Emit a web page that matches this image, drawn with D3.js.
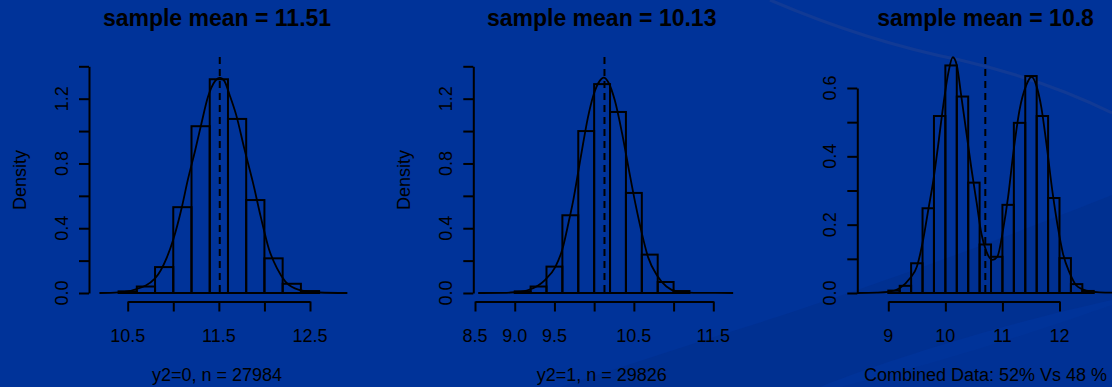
<!DOCTYPE html>
<html>
<head>
<meta charset="utf-8">
<script src="https://cdnjs.cloudflare.com/ajax/libs/d3/7.8.5/d3.min.js"></script>
<style>
  html, body { margin: 0; padding: 0; background: #003399; }
  svg { display: block; font-family: "Liberation Sans", Arial, sans-serif; }
</style>
</head>
<body>
<svg id="chart" width="1112" height="387"></svg>
<script>
//----------DATA----------

var titles = ['sample mean = 11.51', 'sample mean = 10.13', 'sample mean = 10.8'];
var subtitles = ['y2=0, n = 27984', 'y2=1, n = 29826', 'Combined Data: 52% Vs 48 %'];
var yTitles = ['Density', 'Density', ''];

var binWidth = 0.2;
var binStarts = [10.4, 9.0, 9.0];
var heights0 = [0.01, 0.04, 0.16, 0.53, 1.03, 1.32, 1.075, 0.574, 0.214, 0.057, 0.012];
var heights1 = [0.01, 0.04, 0.163, 0.48, 1.0, 1.29, 1.118, 0.618, 0.237, 0.068, 0.012];
var heights2 = [0.007, 0.021, 0.087, 0.248, 0.518, 0.666, 0.575, 0.323, 0.142, 0.106,
                0.258, 0.498, 0.635, 0.518, 0.278, 0.102, 0.026, 0.006];

var density0 = [[10.19,0],[10.4,0.004],[10.57,0.02],[10.8,0.09],[10.93,0.22],[11.0,0.33],
    [11.09,0.52],[11.16,0.70],[11.24,0.88],[11.31,1.05],[11.38,1.21],[11.46,1.31],[11.51,1.33],
    [11.56,1.31],[11.62,1.22],[11.69,1.10],[11.78,0.89],[11.875,0.68],[11.96,0.47],[12.05,0.27],
    [12.14,0.15],[12.23,0.07],[12.38,0.02],[12.6,0.003],[12.91,0]];
var density1 = [[8.54,0],[8.9,0.001],[9.0,0.005],[9.18,0.02],[9.38,0.08],[9.51,0.16],[9.6,0.27],
    [9.68,0.44],[9.74,0.58],[9.8,0.75],[9.86,0.92],[9.92,1.08],[9.99,1.22],[10.07,1.31],[10.12,1.33],
    [10.18,1.30],[10.26,1.19],[10.35,0.99],[10.43,0.78],[10.52,0.55],[10.6,0.37],[10.68,0.22],
    [10.79,0.11],[10.91,0.04],[11.04,0.01],[11.25,0.001],[11.75,0]];
var density2 = [[8.45,0],[8.8,0.001],[9.0,0.003],[9.2,0.014],[9.38,0.043],[9.5,0.077],[9.61,0.155],
    [9.7,0.243],[9.79,0.33],[9.87,0.428],[9.96,0.545],[10.05,0.643],[10.13,0.69],[10.2,0.667],
    [10.28,0.575],[10.37,0.467],[10.46,0.36],[10.55,0.262],[10.63,0.175],[10.72,0.121],[10.83,0.097],
    [10.91,0.106],[11.01,0.184],[11.1,0.282],[11.19,0.409],[11.3,0.536],[11.42,0.609],[11.51,0.633],
    [11.6,0.604],[11.68,0.545],[11.77,0.438],[11.88,0.292],[11.97,0.194],[12.06,0.116],[12.18,0.058],
    [12.29,0.023],[12.47,0.007],[12.7,0.002],[13.3,0]];

var meanLines = [11.51, 10.13, 10.7];

var xTicks0 = [10.5, 11, 11.5, 12, 12.5];
var xTickLabels0 = ['10.5', '', '11.5', '', '12.5'];
var xTicks1 = [8.5, 9, 9.5, 10, 10.5, 11, 11.5];
var xTickLabels1 = ['8.5', '9.0', '9.5', '', '10.5', '', '11.5'];
var xTicks2 = [9, 10, 11, 12];
var xTickLabels2 = ['9', '10', '11', '12'];

var yTicks0 = [0, 0.2, 0.4, 0.6, 0.8, 1.0, 1.2, 1.4];
var yTickLabels0 = ['0.0', '', '0.4', '', '0.8', '', '1.2', ''];
var yTicks2 = [0, 0.1, 0.2, 0.3, 0.4, 0.5, 0.6];
var yTickLabels2 = ['0.0', '', '0.2', '', '0.4', '', '0.6'];

//----------LAYOUT----------

var W = 1112, H = 387;
var y0px = 293;       // y of density 0
var xAxisY = 301.5;   // x axis line
var panels = [
    {axisX: 89,    xr: [127.7, 310],   cx: 217,   heights: heights0, density: density0,
     xTicks: xTicks0, xLabels: xTickLabels0, yTicks: yTicks0, yLabels: yTickLabels0, yTop: 66.3},
    {axisX: 473.3, xr: [475, 713.3],   cx: 601.7, heights: heights1, density: density1,
     xTicks: xTicks1, xLabels: xTickLabels1, yTicks: yTicks0, yLabels: yTickLabels0, yTop: 66.3},
    {axisX: 857.3, xr: [888.3, 1059.5], cx: 985.5, heights: heights2, density: density2,
     xTicks: xTicks2, xLabels: xTickLabels2, yTicks: yTicks2, yLabels: yTickLabels2, yTop: 88}
];

var svg = d3.select('#chart');

//----------BACKGROUND----------

svg.append('rect').attr('width', W).attr('height', H).attr('fill', '#003399');
// darker diagonal bands (slide template)
svg.append('path')
    .attr('d', 'M560,387 L720,335 C850,295 1000,240 1112,195 L1112,300 C1020,320 900,355 820,387 Z')
    .attr('fill', '#002d8a').attr('opacity', 0.55);
svg.append('path')
    .attr('d', 'M840,387 C950,360 1040,330 1112,305 L1112,387 Z')
    .attr('fill', '#00308f').attr('opacity', 0.4);
// thin swoosh at top right
svg.append('path')
    .attr('d', 'M770,0 C840,30 900,48 960,60 C1020,74 1070,92 1112,113')
    .attr('fill', 'none').attr('stroke', '#1d3f92').attr('stroke-width', 3).attr('opacity', 0.6);

//----------PANELS----------

panels.forEach(function(p, i) {
    var x = d3.scaleLinear().domain([p.xTicks[0], p.xTicks[p.xTicks.length - 1]]).range(p.xr);
    var yMax = p.yTicks[p.yTicks.length - 1];
    var y = d3.scaleLinear().domain([0, yMax]).range([y0px, p.yTop]);
    var g = svg.append('g');

    // histogram bars
    g.selectAll('rect.bar')
        .data(p.heights)
        .enter().append('rect')
        .attr('class', 'bar')
        .attr('x', function(d, k) { return x(binStarts[i] + k * binWidth); })
        .attr('width', function(d, k) { return x(binStarts[i] + (k + 1) * binWidth) - x(binStarts[i] + k * binWidth); })
        .attr('y', function(d) { return y(d); })
        .attr('height', function(d) { return y(0) - y(d); })
        .attr('fill', 'none').attr('stroke', '#000').attr('stroke-width', 2);

    // density curve
    var line = d3.line()
        .x(function(d) { return x(d[0]); })
        .y(function(d) { return y(d[1]); })
        .curve(d3.curveMonotoneX);
    g.append('path')
        .datum(p.density)
        .attr('d', line)
        .attr('fill', 'none').attr('stroke', '#000').attr('stroke-width', 1.8);

    // mean line
    g.append('line')
        .attr('x1', x(meanLines[i])).attr('x2', x(meanLines[i]))
        .attr('y1', 57).attr('y2', y0px)
        .attr('stroke', '#000').attr('stroke-width', 2).attr('stroke-dasharray', '7,5');

    // y axis
    var yAxis = d3.axisLeft(y).tickValues(p.yTicks).tickFormat('').tickSize(10).tickSizeOuter(0);
    var ya = g.append('g').attr('transform', 'translate(' + p.axisX + ',0)').call(yAxis);
    ya.selectAll('path, line').attr('stroke', '#000').attr('stroke-width', 2);
    p.yTicks.forEach(function(t, k) {
        if (!p.yLabels[k]) return;
        g.append('text')
            .attr('transform', 'translate(' + (p.axisX - 21) + ',' + y(t) + ') rotate(-90)')
            .attr('text-anchor', 'middle')
            .attr('font-size', 18).attr('fill', '#000')
            .text(p.yLabels[k]);
    });
    if (yTitles[i]) {
        g.append('text')
            .attr('transform', 'translate(' + (p.axisX - 63) + ',180) rotate(-90)')
            .attr('text-anchor', 'middle')
            .attr('font-size', 18).attr('fill', '#000')
            .text(yTitles[i]);
    }

    // x axis
    var xAxis = d3.axisBottom(x).tickValues(p.xTicks).tickFormat('').tickSize(10).tickSizeOuter(0);
    var xa = g.append('g').attr('transform', 'translate(0,' + xAxisY + ')').call(xAxis);
    xa.selectAll('path, line').attr('stroke', '#000').attr('stroke-width', 2);
    p.xTicks.forEach(function(t, k) {
        if (!p.xLabels[k]) return;
        g.append('text')
            .attr('x', x(t)).attr('y', 341.5)
            .attr('text-anchor', 'middle')
            .attr('font-size', 18).attr('fill', '#000')
            .text(p.xLabels[k]);
    });

    // title and subtitle
    g.append('text')
        .attr('x', p.cx).attr('y', 26)
        .attr('text-anchor', 'middle')
        .attr('font-size', 23).attr('font-weight', 'bold').attr('fill', '#000')
        .text(titles[i]);
    g.append('text')
        .attr('x', p.cx).attr('y', 381)
        .attr('text-anchor', 'middle')
        .attr('font-size', 18).attr('fill', '#000')
        .text(subtitles[i]);
});
</script>
</body>
</html>
